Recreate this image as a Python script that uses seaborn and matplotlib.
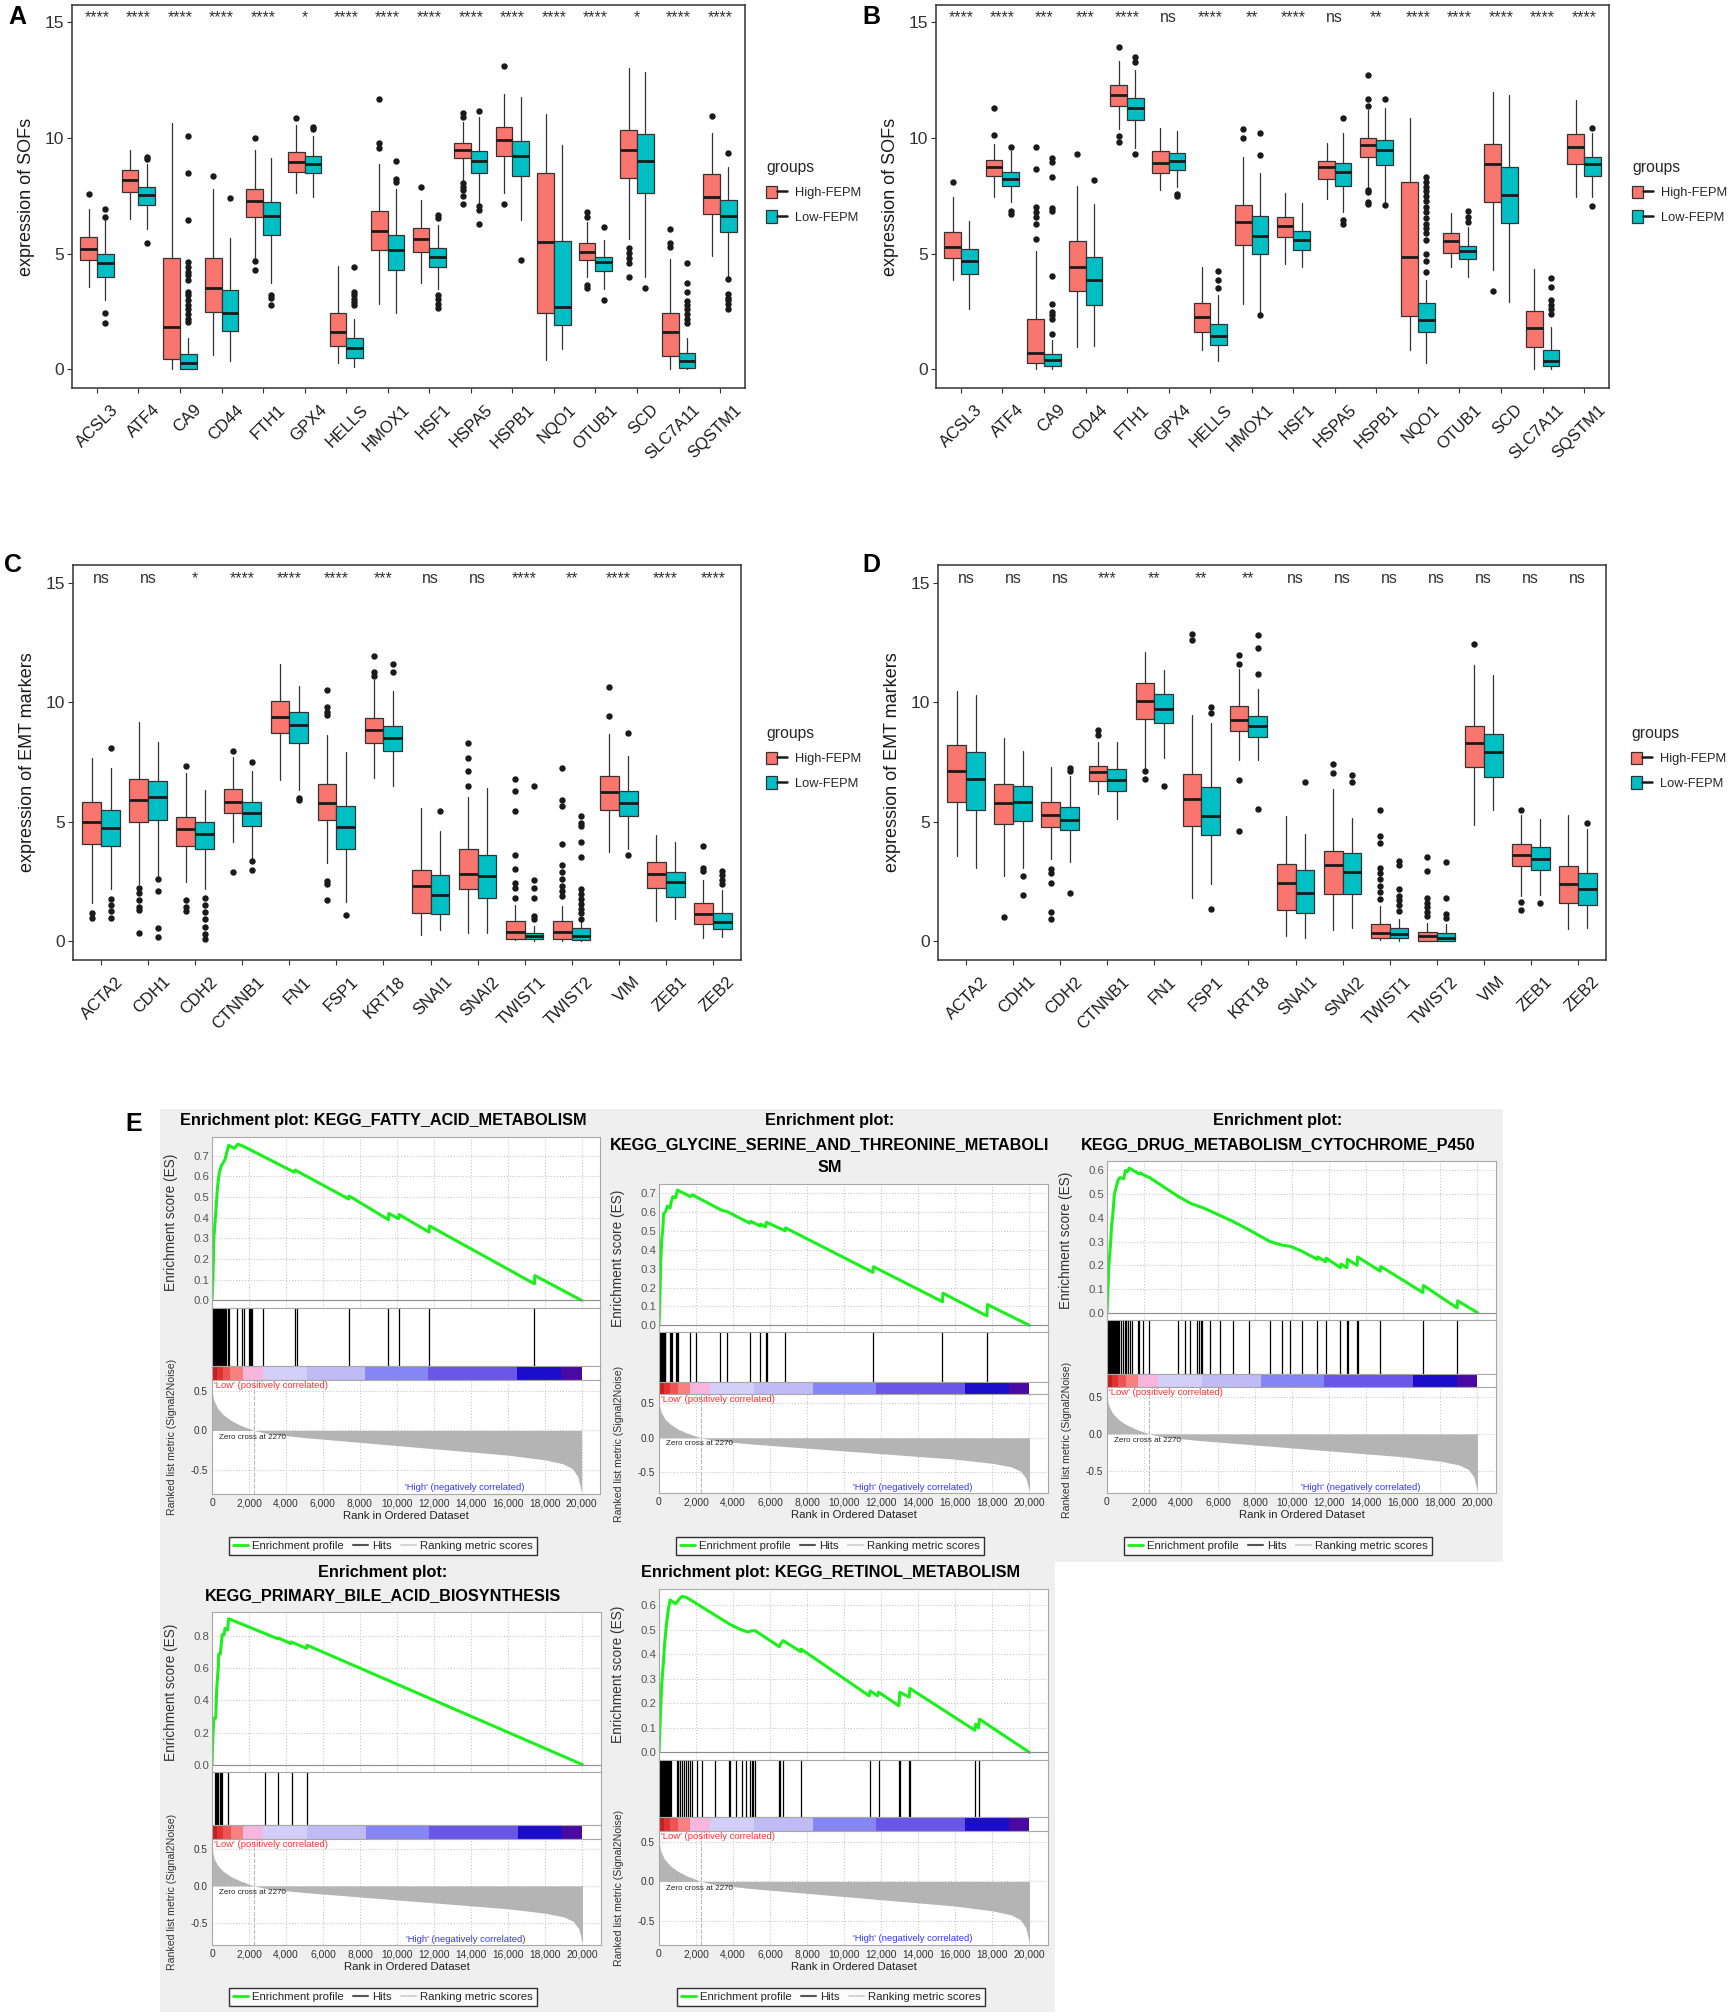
import numpy as np
import matplotlib
matplotlib.use("Agg")
import matplotlib.pyplot as plt
import seaborn as sns
from matplotlib.patches import Patch, Rectangle
from matplotlib.lines import Line2D
from matplotlib.legend_handler import HandlerTuple
from matplotlib.transforms import ScaledTranslation, blended_transform_factory

# ---------------- data: boxplot panels (whislo, q1, median, q3, whishi) ----------------
SOF_GENES = ["ACSL3", "ATF4", "CA9", "CD44", "FTH1", "GPX4", "HELLS", "HMOX1", "HSF1",
             "HSPA5", "HSPB1", "NQO1", "OTUB1", "SCD", "SLC7A11", "SQSTM1"]
EMT_GENES = ["ACTA2", "CDH1", "CDH2", "CTNNB1", "FN1", "FSP1", "KRT18", "SNAI1", "SNAI2",
             "TWIST1", "TWIST2", "VIM", "ZEB1", "ZEB2"]

A_HIGH = [[3.57, 4.74, 5.22, 5.73, 6.92], [6.5, 7.68, 8.18, 8.62, 9.5], [0.0, 0.45, 1.84, 4.8, 10.63],
          [0.62, 2.49, 3.5, 4.83, 7.78], [4.77, 6.57, 7.29, 7.78, 9.48], [7.64, 8.52, 8.98, 9.41, 10.56],
          [0.29, 1.0, 1.6, 2.45, 4.47], [2.81, 5.16, 5.99, 6.84, 8.9], [3.75, 5.06, 5.66, 6.1, 7.32],
          [8.18, 9.12, 9.48, 9.8, 10.7], [7.64, 9.22, 9.91, 10.49, 11.89], [0.4, 2.45, 5.52, 8.47, 11.02],
          [4.0, 4.73, 5.09, 5.45, 6.38], [5.62, 8.29, 9.48, 10.35, 13.01], [0.0, 0.59, 1.6, 2.45, 4.77],
          [4.91, 6.74, 7.46, 8.43, 10.2]]
A_LOW = [[3.0, 4.0, 4.58, 5.01, 6.45], [6.08, 7.1, 7.56, 7.87, 8.9], [0.0, 0.04, 0.26, 0.65, 1.34],
         [0.36, 1.66, 2.45, 3.43, 5.69], [3.75, 5.81, 6.63, 7.25, 9.12], [7.46, 8.47, 8.9, 9.22, 10.1],
         [0.12, 0.48, 0.91, 1.37, 2.2], [2.46, 4.32, 5.16, 5.81, 7.78], [3.46, 4.41, 4.87, 5.26, 6.24],
         [7.1, 8.5, 9.0, 9.45, 10.9], [6.46, 8.37, 9.22, 9.87, 11.79], [0.88, 1.92, 2.68, 5.55, 9.7],
         [3.46, 4.27, 4.65, 4.87, 5.59], [4.0, 7.64, 9.0, 10.16, 12.84], [0.0, 0.07, 0.36, 0.73, 1.34],
         [4.0, 5.95, 6.63, 7.32, 8.76]]
A_HIGH_OUT = [[7.58], [], [], [8.36], [9.99, 4.7, 4.32], [10.88], [], [11.69, 9.77, 9.58], [7.9],
              [11.07, 10.9, 8.07, 7.9, 7.75, 7.5, 7.15], [13.13, 7.15], [], [6.79, 6.6, 3.65, 3.54],
              [5.25, 5.05, 4.8, 4.6, 4.0], [6.07, 5.48, 5.3], [10.97]]
A_LOW_OUT = [[6.92, 6.6, 2.42, 2.03], [9.2, 9.08, 5.45],
             [10.08, 8.5, 6.45, 4.65, 4.45, 4.2, 4.1, 3.85, 3.35, 3.2, 3.0, 2.8, 2.6, 2.4, 2.2, 2.05],
             [7.43], [3.2, 3.1, 2.8], [10.46, 10.4], [4.44, 3.34, 3.2, 3.05, 2.9, 2.78], [9.0, 8.21, 8.11],
             [6.67, 6.53, 3.21, 3.03, 2.85, 2.64], [11.17, 7.06, 6.89, 6.27], [4.73], [], [6.17, 3.0], [3.5],
             [4.58, 3.75, 3.33, 2.95, 2.8, 2.6, 2.4, 2.2, 2.0], [9.34, 3.9, 3.26, 3.1, 3.0, 2.85, 2.6]]
A_SIG = ["****", "****", "****", "****", "****", "*", "****", "****", "****", "****", "****", "****",
         "****", "*", "****", "****"]

B_HIGH = [[3.88, 4.82, 5.28, 5.93, 7.44], [7.44, 8.37, 8.73, 9.06, 9.76], [0.0, 0.29, 0.72, 2.2, 5.14],
          [0.98, 3.39, 4.42, 5.57, 7.94], [10.38, 11.38, 11.88, 12.29, 13.32], [7.75, 8.48, 8.94, 9.44, 10.45],
          [0.86, 1.62, 2.27, 2.87, 4.42], [2.84, 5.38, 6.36, 7.12, 9.19], [4.56, 5.71, 6.19, 6.6, 7.62],
          [7.36, 8.22, 8.73, 9.01, 9.8], [7.87, 9.2, 9.7, 9.99, 11.2], [0.83, 2.31, 4.85, 8.12, 10.85],
          [4.42, 5.02, 5.54, 5.88, 6.76], [4.31, 7.25, 8.87, 9.76, 12.0], [0.04, 0.98, 1.79, 2.51, 4.35],
          [7.44, 8.87, 9.62, 10.19, 11.64]]
B_LOW = [[2.63, 4.13, 4.68, 5.21, 6.43], [7.22, 7.94, 8.22, 8.55, 9.44], [0.0, 0.14, 0.4, 0.69, 1.26],
         [1.0, 2.8, 3.85, 4.88, 7.15], [9.59, 10.78, 11.28, 11.74, 12.96], [7.87, 8.63, 8.99, 9.34, 10.31],
         [0.36, 1.05, 1.45, 1.95, 3.2], [2.45, 4.97, 5.78, 6.65, 8.47], [4.42, 5.17, 5.61, 6.0, 7.18],
         [6.79, 7.94, 8.54, 8.91, 10.23], [7.22, 8.83, 9.47, 9.9, 11.3], [0.29, 1.62, 2.12, 2.87, 3.85],
         [3.99, 4.78, 5.11, 5.33, 6.14], [2.91, 6.32, 7.55, 8.73, 11.86], [0.0, 0.14, 0.37, 0.83, 1.84],
         [7.44, 8.37, 8.87, 9.19, 10.23]]
B_HIGH_OUT = [[8.11], [11.31, 10.12], [9.62, 8.66, 7.0, 6.8, 6.6, 6.3, 5.64], [9.33], [13.92, 10.09, 9.85],
              [], [], [10.41, 9.99], [], [], [12.72, 11.67, 11.38, 7.77, 7.68, 7.22, 7.15], [], [], [3.37],
              [], []]
B_LOW_OUT = [[], [9.62, 6.86, 6.72], [9.16, 8.95, 8.3, 6.98, 6.86, 4.02, 2.81, 2.5, 2.35, 2.2, 1.55], [8.2],
             [13.5, 13.3, 9.33], [7.58, 7.48], [4.25, 3.85, 3.52], [10.2, 9.27, 2.34], [], [10.85, 6.46, 6.29],
             [11.7, 7.1],
             [8.32, 8.1, 7.9, 7.7, 7.5, 7.3, 7.0, 6.8, 6.55, 6.3, 6.1, 5.9, 5.6, 5.0, 4.7, 4.2],
             [6.86, 6.6, 6.36], [], [3.96, 3.58, 3.0, 2.8, 2.6, 2.4], [10.45, 7.08]]
B_SIG = ["****", "****", "***", "***", "****", "ns", "****", "**", "****", "ns", "**", "****", "****",
         "****", "****", "****"]

C_HIGH = [[1.6, 4.04, 4.98, 5.84, 7.65], [2.37, 4.97, 5.91, 6.78, 9.18], [2.46, 3.97, 4.69, 5.19, 7.03],
          [4.13, 5.38, 5.84, 6.36, 7.72], [6.75, 8.72, 9.39, 10.05, 11.62], [3.27, 5.08, 5.77, 6.58, 8.63],
          [6.82, 8.31, 8.82, 9.36, 10.95], [0.24, 1.18, 2.32, 2.99, 5.57], [0.35, 2.16, 2.81, 3.87, 6.05],
          [0.03, 0.1, 0.38, 0.83, 1.5], [0.0, 0.07, 0.39, 0.83, 1.46], [3.72, 5.47, 6.23, 6.92, 8.67],
          [0.83, 2.2, 2.82, 3.31, 4.45], [0.11, 0.72, 1.14, 1.6, 2.55]]
C_LOW = [[2.16, 3.97, 4.73, 5.47, 7.24], [2.64, 5.05, 6.05, 6.68, 8.35], [2.16, 3.83, 4.49, 4.97, 6.33],
         [3.44, 4.83, 5.38, 5.84, 7.1], [6.33, 8.28, 9.03, 9.59, 10.67], [1.63, 3.83, 4.76, 5.66, 7.93],
         [6.47, 7.97, 8.52, 9.0, 10.48], [0.45, 1.14, 1.91, 2.75, 4.59], [0.32, 1.78, 2.74, 3.62, 6.4],
         [0.0, 0.07, 0.21, 0.35, 0.63], [0.0, 0.03, 0.21, 0.56, 0.83], [3.85, 5.22, 5.77, 6.26, 7.75],
         [0.93, 1.84, 2.46, 2.89, 4.13], [0.17, 0.49, 0.81, 1.15, 2.13]]
C_HIGH_OUT = [[1.18, 0.97], [2.2, 2.0, 1.7, 1.4, 1.3, 0.35], [7.33, 1.71, 1.4, 1.25], [7.97, 2.88], [],
              [10.5, 9.8, 9.6, 9.46, 2.5, 2.37, 1.71], [11.92, 11.27, 11.09], [], [8.31, 7.65, 7.1, 6.47],
              [6.78, 6.26, 5.43, 3.62, 3.02, 2.43, 2.23, 1.8],
              [7.24, 5.91, 5.64, 4.08, 3.2, 2.9, 2.6, 2.3, 2.1, 1.88], [10.64, 9.43], [], [3.99, 3.06, 2.92]]
C_LOW_OUT = [[8.1, 1.74, 1.5, 1.25, 0.97], [2.6, 2.09, 0.56, 0.18], [1.8, 1.5, 1.2, 0.9, 0.6, 0.3, 0.1],
             [7.51, 3.34, 2.99], [5.97, 5.89], [1.07], [11.62, 11.27], [5.43], [],
             [6.5, 2.57, 2.2, 1.8, 1.05, 0.92],
             [5.22, 4.95, 4.8, 4.13, 3.51, 2.16, 1.95, 1.75, 1.55, 1.35, 1.15, 0.9], [8.7, 3.62], [],
             [2.92, 2.75, 2.55, 2.37]]
C_SIG = ["ns", "ns", "*", "****", "****", "****", "***", "ns", "ns", "****", "**", "****", "****", "****"]

D_HIGH = [[3.55, 5.84, 7.12, 8.21, 10.48], [2.71, 4.91, 5.77, 6.58, 8.49], [3.44, 4.77, 5.26, 5.8, 7.28],
          [6.16, 6.68, 7.07, 7.33, 8.35], [7.14, 9.29, 10.05, 10.81, 12.11], [1.81, 4.83, 5.96, 7.0, 9.46],
          [7.56, 8.81, 9.25, 9.85, 11.41], [0.21, 1.28, 2.41, 3.23, 5.22], [0.45, 1.98, 3.16, 3.78, 6.36],
          [0.03, 0.11, 0.35, 0.72, 1.46], [0.0, 0.0, 0.21, 0.38, 0.77], [4.87, 7.28, 8.28, 9.0, 11.55],
          [1.88, 3.13, 3.58, 4.06, 5.29], [0.49, 1.6, 2.37, 3.13, 5.29]]
D_LOW = [[3.06, 5.47, 6.79, 7.9, 10.3], [3.06, 5.01, 5.82, 6.5, 7.97], [3.3, 4.63, 5.05, 5.61, 6.89],
         [5.11, 6.3, 6.75, 7.19, 8.35], [7.65, 9.11, 9.71, 10.34, 11.37], [2.37, 4.45, 5.25, 6.44, 9.11],
         [7.58, 8.53, 9.02, 9.43, 10.57], [0.14, 1.18, 2.02, 2.95, 4.49], [0.56, 1.98, 2.88, 3.69, 5.15],
         [0.0, 0.11, 0.28, 0.56, 0.9], [0.0, 0.0, 0.14, 0.32, 0.7], [5.5, 6.86, 7.9, 8.67, 11.13],
         [1.91, 2.99, 3.44, 3.94, 5.11], [0.56, 1.49, 2.18, 2.85, 4.69]]
D_HIGH_OUT = [[], [1.02], [3.02, 2.85, 2.43, 1.21, 0.9], [8.84, 8.63], [7.1, 6.8], [12.84, 12.59],
              [11.97, 11.62, 6.75, 4.59], [], [7.42, 7.03], [5.47, 4.41, 4.1, 3.06, 2.85, 2.6, 2.3, 2.05, 1.74],
              [3.51, 2.92, 1.8, 1.6, 1.4, 1.2, 1.04], [12.43], [5.5, 1.63, 1.29], []]
D_LOW_OUT = [[], [2.74, 1.91], [7.24, 7.1, 2.02], [], [6.47], [9.81, 9.53, 1.32], [12.8, 12.29, 11.2, 5.52],
             [6.64], [6.96, 6.64], [3.34, 3.2, 2.16, 1.9, 1.7, 1.5, 1.25], [3.3, 1.8, 1.11, 0.97], [],
             [1.57], [4.94]]
D_SIG = ["ns", "ns", "ns", "***", "**", "**", "**", "ns", "ns", "ns", "ns", "ns", "ns", "ns"]

# ---------------- data: GSEA enrichment plots ----------------
METRIC_RANK = [0, 100, 300, 600, 1000, 1500, 2270, 3000, 5000, 8000, 10000, 12000, 14000, 16000, 18000,
               19000, 19500, 19800, 20000]
METRIC_VAL = [0.5, 0.38, 0.28, 0.2, 0.13, 0.07, 0.0, -0.04, -0.09, -0.15, -0.19, -0.23, -0.27, -0.31,
              -0.37, -0.42, -0.48, -0.58, -0.78]
HEAT_EDGES = [0, 250, 600, 1000, 1700, 2750, 5150, 8300, 11700, 16500, 18900, 20000]
HEAT_COLORS = ["#c81e1e", "#dc3434", "#ee5454", "#f88080", "#f6b6de", "#d2d0f8", "#c0baf5", "#8585f6",
               "#6a55e8", "#1c0ccc", "#4a0aa2"]

FA_RANK = [0, 50, 100, 200, 300, 400, 500, 700, 900, 1200, 1400, 1700, 4450, 4500, 4600, 7400, 7420, 9550,
           9570, 10100, 10120, 11750, 11770, 17450, 17470, 20000]
FA_ES = [0, 0.1, 0.3, 0.42, 0.55, 0.62, 0.65, 0.68, 0.75, 0.735, 0.755, 0.745, 0.62, 0.63, 0.625, 0.49, 0.505,
         0.39, 0.42, 0.395, 0.415, 0.33, 0.36, 0.08, 0.12, 0.0]
FA_HITS = [0, 30, 60, 100, 140, 180, 220, 260, 300, 350, 400, 450, 500, 550, 600, 650, 720, 780, 850, 900,
           1350, 1650, 1740, 1980, 2050, 2120, 2160, 2750, 4470, 4600, 7400, 9550, 10100, 11750, 17450]

GLY_RANK = [0, 50, 100, 150, 200, 250, 350, 450, 600, 650, 750, 900, 1000, 1700, 1800, 3350, 3700, 4900, 4950,
            5450, 5480, 5750, 5800, 6800, 6830, 11550, 11580, 15300, 15330, 17700, 17730, 20000]
GLY_ES = [0, 0.15, 0.35, 0.46, 0.5, 0.59, 0.6, 0.63, 0.62, 0.65, 0.68, 0.675, 0.715, 0.68, 0.69, 0.61, 0.6,
          0.54, 0.55, 0.525, 0.535, 0.52, 0.545, 0.5, 0.515, 0.28, 0.31, 0.125, 0.17, 0.05, 0.11, 0.0]
GLY_HITS = [0, 40, 80, 120, 160, 200, 250, 300, 350, 600, 650, 700, 900, 950, 1000, 1700, 2000, 3300, 3650,
            4900, 5450, 5750, 5850, 6800, 11550, 15300, 17700]

DRUG_RANK = [0, 50, 100, 150, 200, 250, 300, 350, 400, 500, 600, 700, 900, 1000, 1100, 1200, 1750, 1800,
             2000, 2300, 3850, 4200, 4550, 4900, 5100, 5550, 6100, 6800, 7650, 8800, 9450, 9900, 10500,
             11350, 11380, 11800, 11830, 12600, 12630, 12950, 12980, 13500, 13530, 14750, 14780, 17050,
             17080, 18900, 18930, 20000]
DRUG_ES = [0, 0.1, 0.2, 0.25, 0.3, 0.37, 0.4, 0.45, 0.5, 0.53, 0.56, 0.57, 0.565, 0.6, 0.595, 0.61, 0.585,
           0.59, 0.58, 0.57, 0.49, 0.475, 0.46, 0.45, 0.445, 0.43, 0.41, 0.385, 0.35, 0.3, 0.285, 0.28, 0.26,
           0.225, 0.235, 0.215, 0.23, 0.19, 0.205, 0.19, 0.225, 0.2, 0.235, 0.175, 0.195, 0.085, 0.115, 0.02,
           0.05, 0.0]
DRUG_HITS = [0, 40, 80, 120, 160, 200, 240, 280, 320, 360, 400, 450, 500, 550, 600, 650, 750, 850, 950, 1000,
             1050, 1150, 1250, 1350, 1700, 1750, 1950, 2250, 3850, 4200, 4500, 4850, 4950, 5050, 5150, 5550,
             6100, 6800, 7650, 8800, 9450, 9900, 10500, 11350, 11800, 12600, 12950, 13000, 13500, 13550,
             14750, 17050, 18900]

BILE_RANK = [0, 50, 100, 200, 250, 300, 350, 360, 450, 500, 550, 650, 700, 850, 860, 900, 3550, 3580, 4250,
             4280, 5100, 5130, 20000]
BILE_ES = [0, 0.18, 0.29, 0.29, 0.46, 0.55, 0.62, 0.69, 0.69, 0.75, 0.81, 0.81, 0.85, 0.84, 0.87, 0.91, 0.785,
           0.79, 0.755, 0.765, 0.725, 0.745, 0.0]
BILE_HITS = [150, 200, 250, 300, 350, 450, 500, 550, 850, 2850, 3550, 4300, 5150]

RET_RANK = [0, 50, 100, 150, 200, 250, 300, 350, 400, 450, 500, 550, 600, 800, 900, 1000, 1100, 1250, 1500,
            3850, 4400, 4800, 5000, 5200, 6500, 6550, 6700, 7650, 7680, 11350, 11400, 11800, 11850, 12950,
            13000, 13500, 13550, 17050, 17100, 17250, 17300, 20000]
RET_ES = [0, 0.1, 0.2, 0.28, 0.33, 0.38, 0.44, 0.48, 0.52, 0.55, 0.58, 0.6, 0.62, 0.61, 0.605, 0.615, 0.625,
          0.635, 0.63, 0.52, 0.5, 0.49, 0.495, 0.495, 0.43, 0.44, 0.455, 0.41, 0.42, 0.23, 0.25, 0.23, 0.245,
          0.19, 0.245, 0.225, 0.26, 0.09, 0.115, 0.1, 0.135, 0.0]
RET_HITS = [0, 40, 80, 120, 160, 200, 240, 280, 320, 360, 400, 450, 500, 550, 600, 650, 950, 1000, 1050, 1150,
            1250, 1350, 1450, 1550, 1700, 1800, 2050, 2300, 3050, 3800, 3850, 4150, 4500, 4700, 4900, 5000,
            5100, 5200, 6500, 6550, 6700, 7650, 11400, 11850, 12950, 13000, 13500, 13550, 17050, 17250]

HIGH_COL = "#F8766D"
LOW_COL = "#00BFC4"
GREEN = "#1cf01c"

W, H = 1736, 2016

sns.set_theme(style="white")
plt.rcParams["font.family"] = ["Liberation Sans", "DejaVu Sans"]

fig = plt.figure(figsize=(W / 100, H / 100), dpi=100)


def rect(l, t, r, b):
    return [l / W, 1 - b / H, (r - l) / W, (b - t) / H]


def box_panel(frame, genes, high, low, high_out, low_out, sig, ylabel, legend_xy):
    ax = fig.add_axes(rect(*frame))
    pos = np.arange(len(genes))
    for five, outs, shift, col in ((high, high_out, -0.2, HIGH_COL), (low, low_out, 0.2, LOW_COL)):
        stats = [dict(whislo=s[0], q1=s[1], med=s[2], q3=s[3], whishi=s[4], fliers=o)
                 for s, o in zip(five, outs)]
        ax.bxp(stats, positions=pos + shift, widths=0.4, patch_artist=True, showcaps=False,
               manage_ticks=False,
               boxprops=dict(facecolor=col, edgecolor="#333333", linewidth=0.9),
               medianprops=dict(color="#1a1a1a", linewidth=2.0),
               whiskerprops=dict(color="#333333", linewidth=0.9),
               flierprops=dict(marker="o", markersize=3.6, markerfacecolor="#1a1a1a",
                               markeredgecolor="#1a1a1a"))
    ax.set_xlim(-0.6, len(genes) - 0.4)
    ax.set_ylim(-0.8, 15.75)
    ax.set_xticks(pos)
    ax.set_xticklabels([])
    # rotated gene names, anchored a little right of / below each tick
    lbl_tr = blended_transform_factory(ax.transData, ax.transAxes) + \
        ScaledTranslation(0.14, -0.14, fig.dpi_scale_trans)
    for i, g in enumerate(genes):
        ax.text(i, 0, g, transform=lbl_tr, rotation=45, ha="right", va="top", rotation_mode="anchor",
                fontsize=12, color="#1a1a1a")
    ax.set_yticks([0, 5, 10, 15])
    ax.set_yticklabels(["0", "5", "10", "15"], fontsize=12.5, color="#333333")
    ax.tick_params(axis="both", length=3.5, width=0.8, color="#333333", bottom=True, left=True, pad=2)
    for s in ax.spines.values():
        s.set_color("#333333")
        s.set_linewidth(1.1)
    ax.set_ylabel(ylabel, fontsize=13, color="#1a1a1a")
    ax.yaxis.set_label_coords(-37 / (frame[2] - frame[0]), 0.5)
    for i, s in enumerate(sig):
        ax.text(i, 15.0, s, ha="center", va="baseline", fontsize=11.5, color="#333333")
    hp = Patch(facecolor=HIGH_COL, edgecolor="#333333", linewidth=0.9)
    lp = Patch(facecolor=LOW_COL, edgecolor="#333333", linewidth=0.9)
    ml = Line2D([], [], color="#1a1a1a", linewidth=1.8)
    leg = ax.legend(handles=[(hp, ml), (lp, ml)], labels=["High-FEPM", "Low-FEPM"],
                    handler_map={tuple: HandlerTuple(ndivide=None)}, title="groups",
                    loc="upper left", bbox_to_anchor=(legend_xy[0] / W, 1 - legend_xy[1] / H),
                    bbox_transform=fig.transFigure, frameon=False, fontsize=9.3, title_fontsize=11.3,
                    handlelength=1.63, handleheight=1.08, labelspacing=0.85, handletextpad=0.6,
                    borderaxespad=0, borderpad=0)
    leg._legend_box.align = "left"
    return ax


box_panel((72, 5, 745, 388), SOF_GENES, A_HIGH, A_LOW, A_HIGH_OUT, A_LOW_OUT, A_SIG,
          "expression of SOFs", (766, 160))
box_panel((936, 5, 1609, 388), SOF_GENES, B_HIGH, B_LOW, B_HIGH_OUT, B_LOW_OUT, B_SIG,
          "expression of SOFs", (1632, 160))
box_panel((73, 565, 741, 960), EMT_GENES, C_HIGH, C_LOW, C_HIGH_OUT, C_LOW_OUT, C_SIG,
          "expression of EMT markers", (766, 726))
box_panel((938, 565, 1606, 960), EMT_GENES, D_HIGH, D_LOW, D_HIGH_OUT, D_LOW_OUT, D_SIG,
          "expression of EMT markers", (1631, 726))

for letter, x, y in (("A", 8, 5), ("B", 862, 5), ("C", 4, 553), ("D", 862, 553), ("E", 125, 1112)):
    fig.text(x / W, 1 - y / H, letter, fontsize=18, fontweight="bold", ha="left", va="top", color="black")

# gray backdrop of the GSEA snapshots
for (x0, y0, x1, y1) in ((160, 1109, 1503, 1562), (160, 1562, 1055, 2012)):
    fig.add_artist(Rectangle((x0 / W, 1 - y1 / H), (x1 - x0) / W, (y1 - y0) / H,
                             transform=fig.transFigure, facecolor="#efefef", edgecolor="none", zorder=-5))

XT = np.arange(0, 20001, 2000)


def frame_style(ax):
    for s in ax.spines.values():
        s.set_color("#a8a8a8")
        s.set_linewidth(0.8)


def gsea_panel(l, r, t, b_es, b_hit, b_heat, b_met, ranks, es, hits, es_top, es_bot, es_ticks,
               title_lines, title_x, title_y0, leg_y):
    ax_es = fig.add_axes(rect(l, t, r, b_es))
    sns.lineplot(x=ranks, y=es, sort=False, estimator=None, color=GREEN, linewidth=2.2, ax=ax_es)
    ax_es.axhline(0, color="#8c8c8c", linewidth=0.8)
    ax_es.set_xlim(0, 21000)
    ax_es.set_ylim(es_bot, es_top)
    ax_es.set_xticks(XT)
    ax_es.set_xticklabels([])
    ax_es.set_yticks(es_ticks)
    ax_es.set_yticklabels([f"{v:.1f}" for v in es_ticks], fontsize=8.2, color="#555555")
    ax_es.tick_params(axis="both", length=0, pad=2)
    ax_es.grid(True, color="#c8c8c8", linestyle=":", linewidth=0.8)
    ax_es.set_ylabel("Enrichment score (ES)", fontsize=9.8, color="#333333")
    ax_es.yaxis.set_label_coords(-34 / (r - l), 0.5)
    frame_style(ax_es)

    ax_hit = fig.add_axes(rect(l, b_es, r, b_hit))
    ax_hit.vlines(hits, 0, 1, color="black", linewidth=0.9)
    ax_hit.set_xlim(0, 21000)
    ax_hit.set_ylim(0, 1)
    ax_hit.set_xticks([])
    ax_hit.set_yticks([])
    frame_style(ax_hit)

    ax_heat = fig.add_axes(rect(l, b_hit, r, b_heat))
    ax_heat.bar(HEAT_EDGES[:-1], 1, width=np.diff(HEAT_EDGES), align="edge", color=HEAT_COLORS, linewidth=0)
    ax_heat.set_xlim(0, 21000)
    ax_heat.set_ylim(0, 1)
    ax_heat.set_xticks([])
    ax_heat.set_yticks([])
    frame_style(ax_heat)

    ax_m = fig.add_axes(rect(l, b_heat, r, b_met))
    ax_m.fill_between(METRIC_RANK, METRIC_VAL, 0, color="#b4b4b4", linewidth=0)
    ax_m.axvline(2270, color="#b8b8b8", linestyle="--", linewidth=0.8)
    ax_m.set_xlim(0, 21000)
    ax_m.set_ylim(-0.8, 0.635)
    ax_m.set_xticks(XT)
    ax_m.set_xticklabels(["0"] + [f"{v:,}" for v in XT[1:]], fontsize=7.4, color="#333333")
    ax_m.set_yticks([-0.5, 0.0, 0.5])
    ax_m.set_yticklabels(["-0.5", "0.0", "0.5"], fontsize=7.2, color="#333333")
    ax_m.tick_params(axis="both", length=0, pad=3)
    ax_m.grid(True, color="#c8c8c8", linestyle=":", linewidth=0.8)
    ax_m.set_xlabel("Rank in Ordered Dataset", fontsize=8.2, color="#222222", labelpad=2)
    ax_m.set_ylabel("Ranked list metric (Signal2Noise)", fontsize=7.6, color="#333333")
    ax_m.yaxis.set_label_coords(-35 / (r - l), 0.5)
    ax_m.text(90, 0.56, "'Low' (positively correlated)", color="#ff3030", fontsize=6.8, va="center")
    ax_m.text(360, -0.085, "Zero cross at 2270", color="#222222", fontsize=5.8, va="center")
    ax_m.text(10450, -0.72, "'High' (negatively correlated)", color="#3535ff", fontsize=6.8, va="center")
    frame_style(ax_m)

    for k, line in enumerate(title_lines):
        fig.text(title_x / W, 1 - (title_y0 + 23.5 * k) / H, line, fontsize=11.7, fontweight="bold",
                 ha="center", va="center", color="black")

    handles = [Line2D([], [], color=GREEN, linewidth=2), Line2D([], [], color="#555555", linewidth=1.5),
               Line2D([], [], color="#d4d4d4", linewidth=1.5)]
    leg = fig.legend(handles, ["Enrichment profile", "Hits", "Ranking metric scores"], loc="upper center",
                     bbox_to_anchor=(title_x / W, 1 - leg_y / H), ncol=3, fontsize=8.2, frameon=True,
                     fancybox=False, edgecolor="black", facecolor="white", handlelength=1.3,
                     handletextpad=0.4, columnspacing=0.8, borderpad=0.35, borderaxespad=0)
    leg.get_frame().set_linewidth(1.0)


ES7 = [0.0, 0.1, 0.2, 0.3, 0.4, 0.5, 0.6, 0.7]
ES6 = [0.0, 0.1, 0.2, 0.3, 0.4, 0.5, 0.6]
ES8 = [0.0, 0.2, 0.4, 0.6, 0.8]

gsea_panel(212, 600, 1137, 1308, 1366, 1380, 1494, FA_RANK, FA_ES, FA_HITS, 0.79, -0.037, ES7,
           ["Enrichment plot: KEGG_FATTY_ACID_METABOLISM"], 383, 1120, 1537)
gsea_panel(659, 1048, 1184, 1332, 1382, 1394, 1493, GLY_RANK, GLY_ES, GLY_HITS, 0.747, -0.035, ES7,
           ["Enrichment plot:", "KEGG_GLYCINE_SERINE_AND_THREONINE_METABOLI", "SM"], 830, 1121, 1537)
gsea_panel(1107, 1496, 1161, 1320, 1374, 1387, 1493, DRUG_RANK, DRUG_ES, DRUG_HITS, 0.64, -0.031, ES6,
           ["Enrichment plot:", "KEGG_DRUG_METABOLISM_CYTOCHROME_P450"], 1278, 1121, 1537)
gsea_panel(212, 601, 1612, 1772, 1825, 1839, 1945, BILE_RANK, BILE_ES, BILE_HITS, 0.952, -0.046, ES8,
           ["Enrichment plot:", "KEGG_PRIMARY_BILE_ACID_BIOSYNTHESIS"], 383, 1572, 1988)
gsea_panel(659, 1048, 1589, 1760, 1817, 1831, 1945, RET_RANK, RET_ES, RET_HITS, 0.665, -0.031, ES6,
           ["Enrichment plot: KEGG_RETINOL_METABOLISM"], 831, 1572, 1988)

fig.savefig("out.png", dpi=100, facecolor="white")
